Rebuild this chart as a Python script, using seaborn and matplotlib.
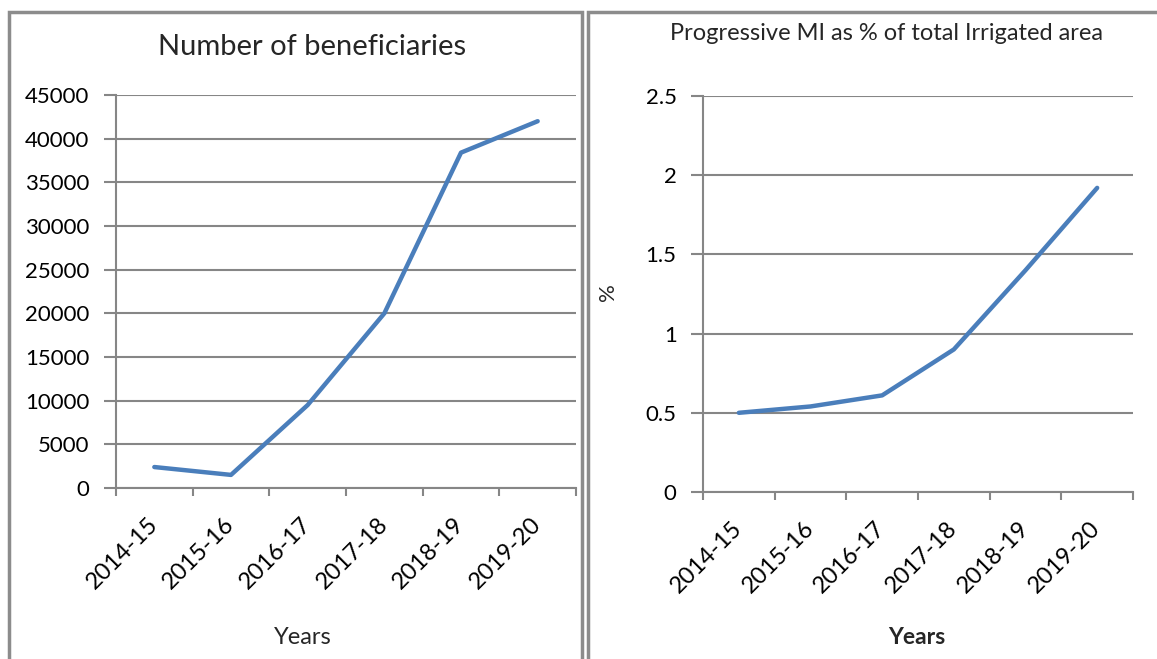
import matplotlib
matplotlib.use('Agg')
import matplotlib.pyplot as plt
import seaborn as sns
import pandas as pd
from matplotlib.patches import Rectangle

# data
years = ['2014-15', '2015-16', '2016-17', '2017-18', '2018-19', '2019-20']
beneficiaries = [2400, 1500, 9500, 20000, 38400, 42000]
mi_percent = [0.50, 0.54, 0.61, 0.90, 1.40, 1.92]

LINE = '#4A7EBB'
GRAY = '#868686'
W, H = 1157, 659

sns.set_theme(style='white')
plt.rcParams['font.family'] = ['Lato', 'DejaVu Sans']


def px_axes(fig, x0, x1, ytop, ybot):
	'''Add axes from pixel bounds (y measured from top).'''
	return fig.add_axes([x0 / W, (H - ybot) / H, (x1 - x0) / W, (ybot - ytop) / H])


def style_axes(ax, ymax, step):
	'''Excel-like look: grey grid, ticks between categories.'''
	ax.set_xlim(-0.5, len(years) - 0.5)
	ax.set_ylim(0, ymax)
	ax.set_xticks([i - 0.5 for i in range(len(years) + 1)])
	ax.set_xticklabels([])
	ax.set_xticks(range(len(years)), minor=True)
	ax.set_xticklabels(years, minor=True, rotation=45, ha='right',
					   va='center', rotation_mode='anchor', fontsize=17)
	ax.tick_params(axis='x', which='major', length=6, width=1.5, color=GRAY,
				   direction='out', bottom=True)
	ax.tick_params(axis='x', which='minor', length=0, pad=24)
	ticks = [i * step for i in range(int(round(ymax / step)) + 1)]
	ax.set_yticks(ticks)
	ax.tick_params(axis='y', length=9, width=1.5, color=GRAY, direction='out',
				   left=True, labelsize=16, pad=10)
	ax.grid(axis='y', color=GRAY, linewidth=1.5)
	ax.set_axisbelow(True)
	for side in ['top', 'right']:
		ax.spines[side].set_visible(False)
	for side in ['left', 'bottom']:
		ax.spines[side].set_color(GRAY)
		ax.spines[side].set_linewidth(1.5)
	ax.set_xlabel('')
	ax.set_ylabel('')
	for lab in ax.get_xticklabels(minor=True) + ax.get_yticklabels():
		lab.set_color('black')


fig = plt.figure(figsize=(W / 100, H / 100), dpi=100)
fig.patch.set_facecolor('white')

# panel frames
fig.patches.append(Rectangle((9 / W, -0.05), 573 / W, (H - 12) / H + 0.05,
							 transform=fig.transFigure, fill=False,
							 edgecolor='#8C8C8C', linewidth=2.5))
fig.patches.append(Rectangle((588 / W, -0.05), 600 / W, (H - 12) / H + 0.05,
							 transform=fig.transFigure, fill=False,
							 edgecolor='#8C8C8C', linewidth=2.5))

# left chart
df1 = pd.DataFrame({'year': years, 'value': beneficiaries})
ax1 = px_axes(fig, 116, 576, 95, 488)
sns.lineplot(data=df1, x=range(len(years)), y='value', ax=ax1, color=LINE,
			 linewidth=3.2, sort=False)
style_axes(ax1, 45000, 5000)
fig.text(312 / W, 1 - 47 / H, 'Number of beneficiaries', ha='center',
		 va='center', fontsize=21)
fig.text(303 / W, 1 - 637 / H, 'Years', ha='center', va='center', fontsize=17)

# right chart
df2 = pd.DataFrame({'year': years, 'value': mi_percent})
ax2 = px_axes(fig, 703, 1133, 96, 492)
sns.lineplot(data=df2, x=range(len(years)), y='value', ax=ax2, color=LINE,
			 linewidth=3.2, sort=False)
style_axes(ax2, 2.5, 0.5)
ax2.set_yticklabels(['0', '0.5', '1', '1.5', '2', '2.5'])
fig.text(886 / W, 1 - 33 / H, 'Progressive MI as % of total Irrigated area',
		 ha='center', va='center', fontsize=17)
fig.text(608 / W, 1 - 292 / H, '%', ha='center', va='center', fontsize=16,
		 rotation=90)
fig.text(917 / W, 1 - 637 / H, 'Years', ha='center', va='center', fontsize=16.5,
		 fontweight='bold')

fig.savefig('out.png', dpi=100)
